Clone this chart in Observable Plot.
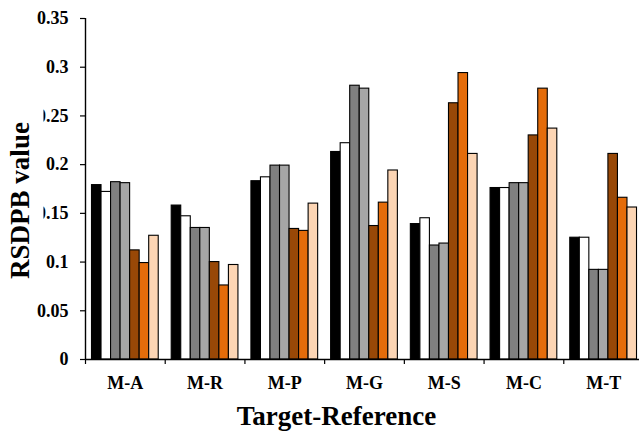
<!DOCTYPE html>
<html>
<head>
<meta charset="utf-8">
<script src="https://cdn.jsdelivr.net/npm/d3@7"></script>
<script src="https://cdn.jsdelivr.net/npm/@observablehq/plot@0.6"></script>
<style>
  html, body { margin: 0; padding: 0; background: #fff; overflow: hidden; }
  #chart { position: relative; width: 639px; height: 432px; font-family: "Liberation Serif", "Times New Roman", serif; }
  #chart svg { overflow: hidden; }
  .ytitle {
    position: absolute; left: -78.5px; top: 178.5px; width: 200px; height: 43px;
    box-sizing: border-box; padding-bottom: 5px; line-height: 38px;
    transform: rotate(-90deg); background: #fff; text-align: center;
    font-weight: bold; font-size: 27px; white-space: nowrap;
  }
  .xtitle {
    position: absolute; left: 186.5px; top: 401px; width: 300px; line-height: 30px;
    text-align: center; font-weight: bold; font-size: 27px; white-space: nowrap;
  }
</style>
</head>
<body>
<div id="chart"></div>
<script>
// Target-reference pairs along the x axis
const groups = ["M-A", "M-R", "M-P", "M-G", "M-S", "M-C", "M-T"];

// RSDPB values, one array per bar series (same order as groups)
const series1 = [0.179, 0.158, 0.183, 0.213, 0.139, 0.176, 0.125];
const series2 = [0.172, 0.147, 0.187, 0.222, 0.145, 0.176, 0.125];
const series3 = [0.182, 0.135, 0.199, 0.281, 0.117, 0.181, 0.092];
const series4 = [0.181, 0.135, 0.199, 0.278, 0.119, 0.181, 0.092];
const series5 = [0.112, 0.100, 0.134, 0.137, 0.263, 0.230, 0.211];
const series6 = [0.099, 0.076, 0.132, 0.161, 0.294, 0.278, 0.166];
const series7 = [0.127, 0.097, 0.160, 0.194, 0.211, 0.237, 0.156];

const seriesNames = ["Series 1", "Series 2", "Series 3", "Series 4", "Series 5", "Series 6", "Series 7"];
const seriesValues = [series1, series2, series3, series4, series5, series6, series7];
const seriesColors = ["#000000", "#ffffff", "#808080", "#a6a6a6", "#984807", "#e46c0a", "#fcd5b4"];

// y axis tick values
const yTicks = [0, 0.05, 0.1, 0.15, 0.2, 0.25, 0.3, 0.35];

// Each group occupies one unit on a linear x scale; bars sit side by side inside it
const barW = 0.1196;
const gap = (1 - seriesNames.length * barW) / 2;

const rows = [];
groups.forEach((g, gi) => {
  seriesNames.forEach((s, si) => {
    rows.push({group: g, series: s, gi, si, value: seriesValues[si][gi]});
  });
});

const font = "Liberation Serif, Times New Roman, serif";
const labelStyle = {fontFamily: font, fontWeight: "bold", fontSize: 18};

const plot = Plot.plot({
  width: 639,
  height: 432,
  marginTop: 18,
  marginBottom: 73,
  marginLeft: 85,
  marginRight: 0,
  style: {fontFamily: font, fontWeight: "bold", fontSize: "18px", color: "#000", background: "#fff"},
  x: {domain: [0, groups.length], range: [85, 643]},
  y: {domain: [0, 0.35]},
  color: {domain: seriesNames, range: seriesColors},
  marks: [
    Plot.rect(rows, {
      x1: d => d.gi + gap + d.si * barW,
      x2: d => d.gi + gap + (d.si + 1) * barW,
      y1: 0,
      y2: "value",
      fill: "series",
      stroke: "#000",
      strokeWidth: 1.1
    }),
    Plot.ruleX([0], {stroke: "#000", strokeWidth: 1.4}),
    Plot.ruleY([0], {stroke: "#000", strokeWidth: 1.4}),
    Plot.axisY({
      ticks: yTicks,
      tickSize: 5,
      tickPadding: 12,
      tickFormat: d => `${+d.toFixed(2)}`,
      label: null,
      strokeWidth: 1.2,
      ...labelStyle
    }),
    Plot.axisX({
      ticks: d3.range(groups.length + 1),
      tickSize: 5,
      tickFormat: () => "",
      label: null,
      strokeWidth: 1.2
    }),
    Plot.axisX({
      ticks: groups.map((g, i) => i + 0.5),
      tickSize: 0,
      tickPadding: 17,
      tickFormat: d => groups[Math.floor(d)],
      label: null,
      ...labelStyle
    })
  ]
});

const chart = document.getElementById("chart");
chart.appendChild(plot);

const yTitle = document.createElement("div");
yTitle.className = "ytitle";
yTitle.textContent = "RSDPB value";
chart.appendChild(yTitle);

const xTitle = document.createElement("div");
xTitle.className = "xtitle";
xTitle.textContent = "Target-Reference";
chart.appendChild(xTitle);
</script>
</body>
</html>
